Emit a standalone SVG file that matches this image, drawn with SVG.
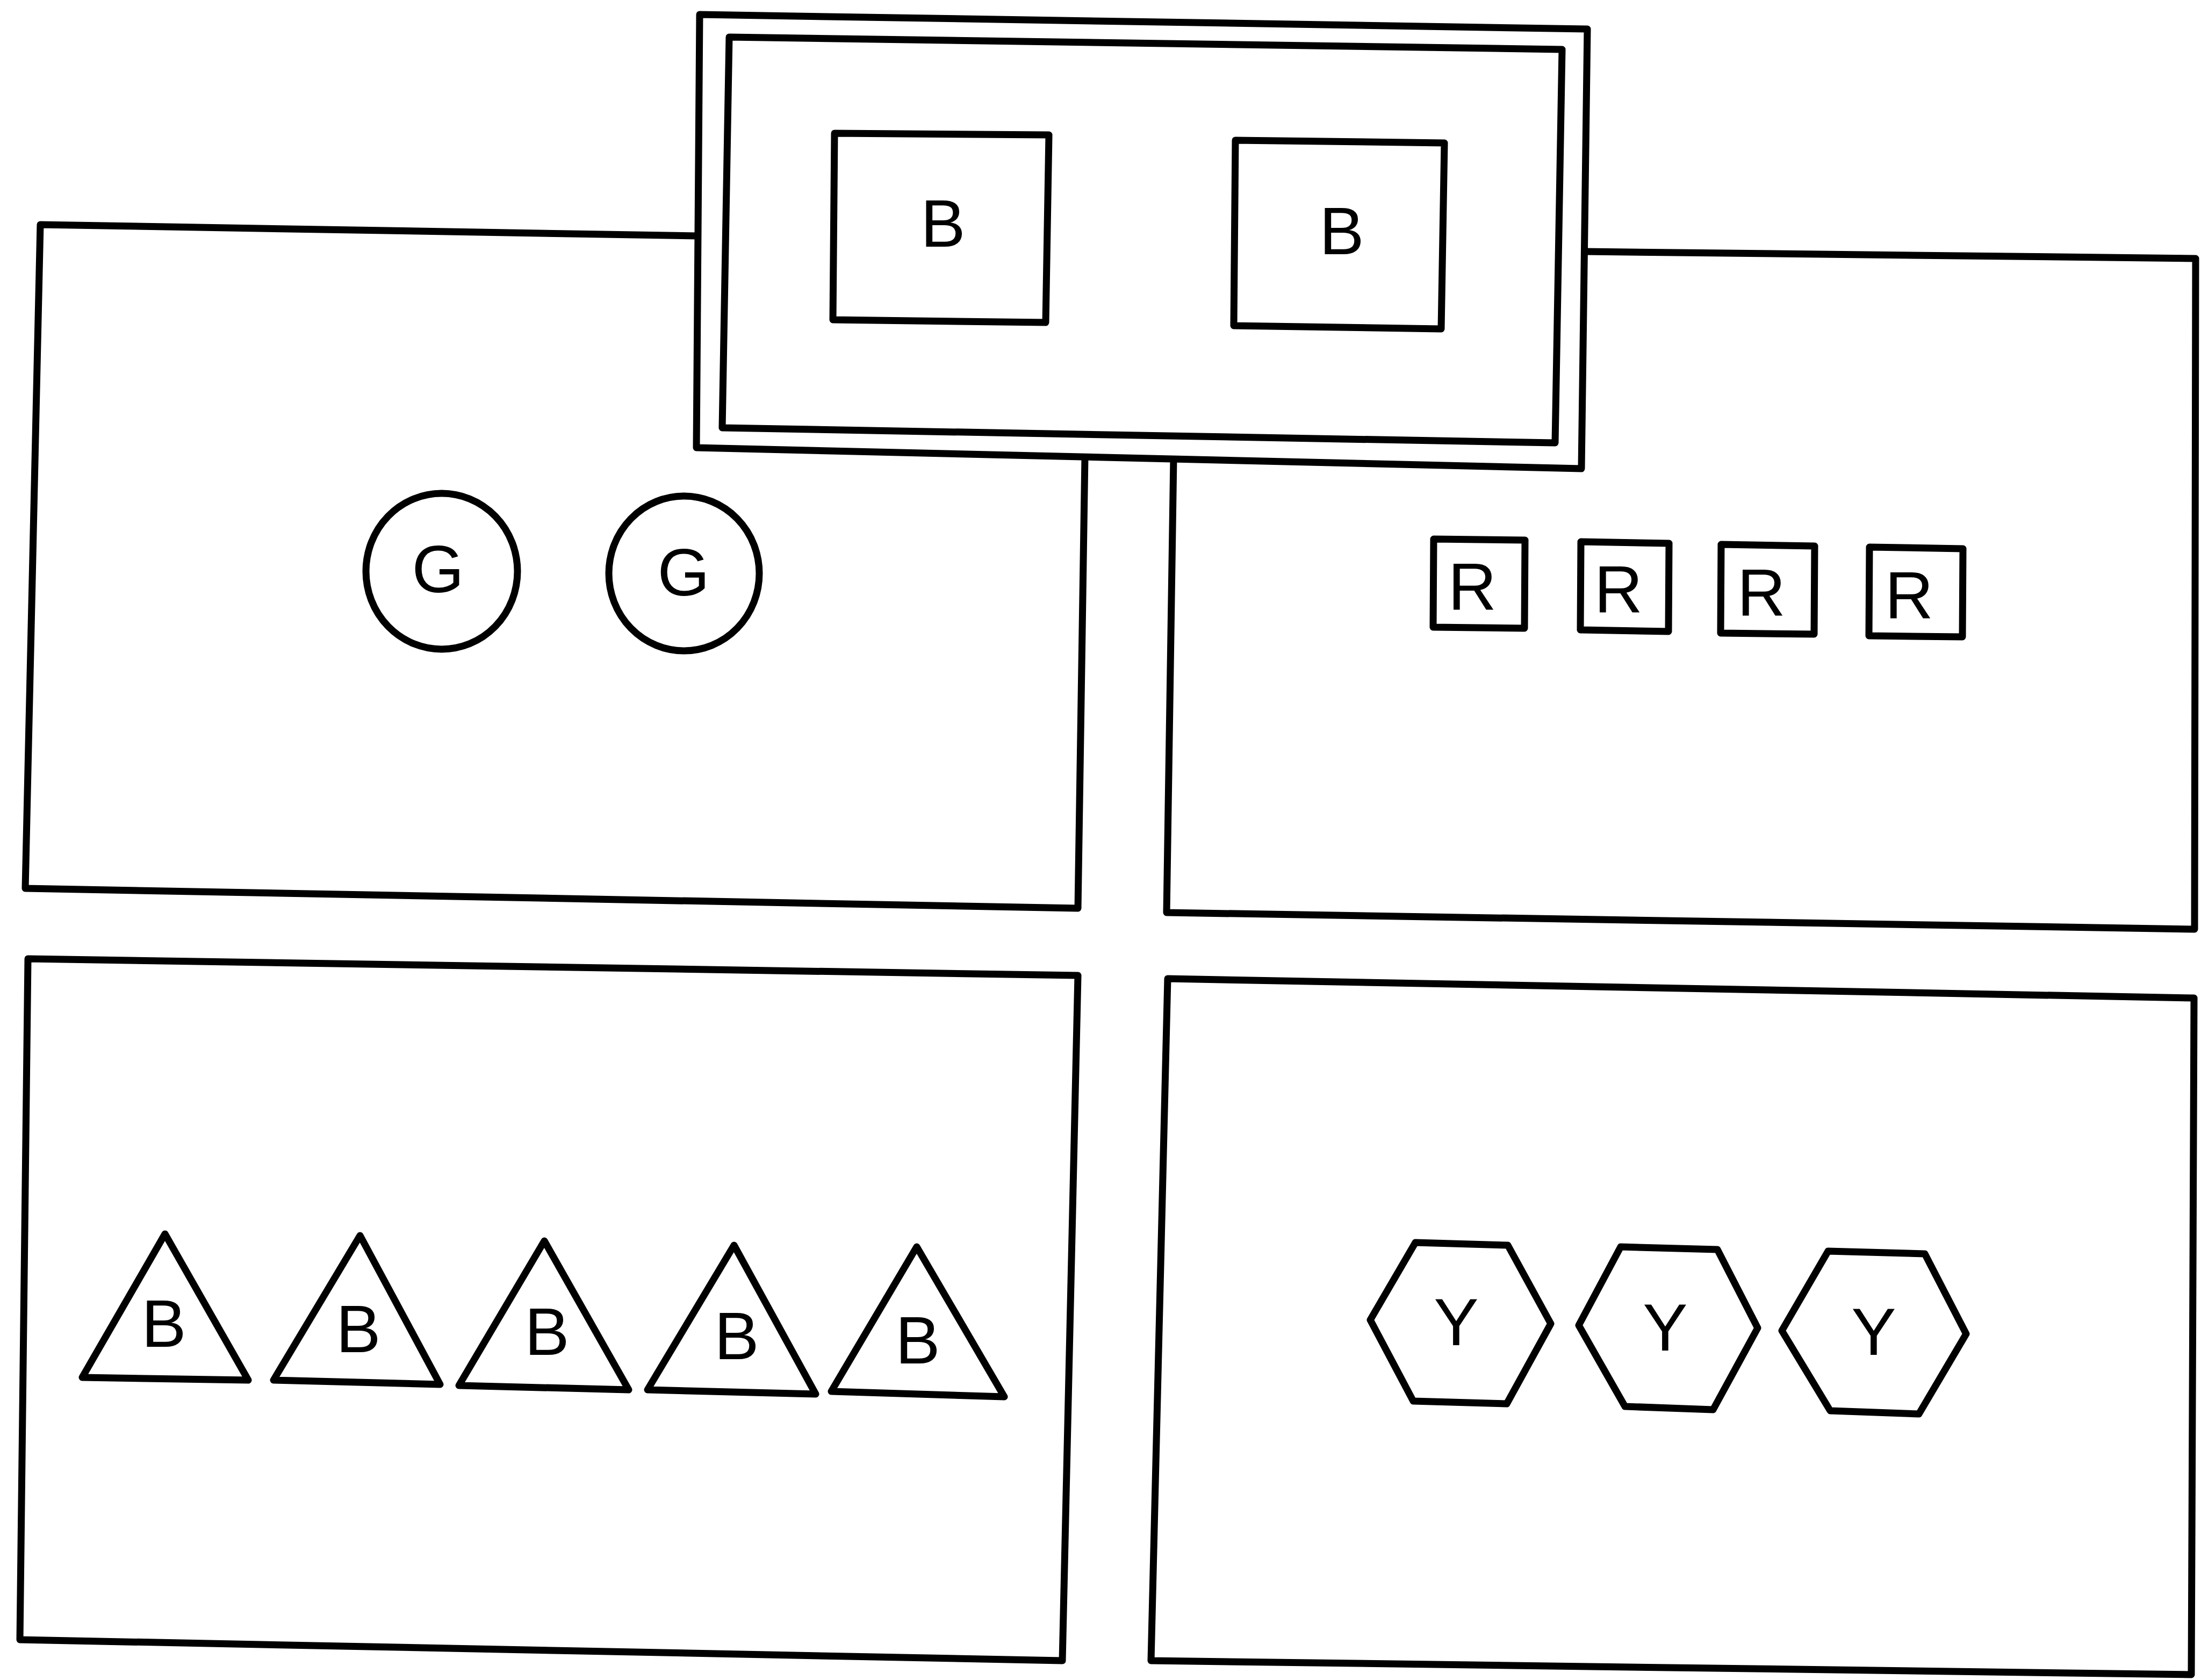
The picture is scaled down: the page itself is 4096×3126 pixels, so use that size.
<svg xmlns="http://www.w3.org/2000/svg" width="4096" height="3126" viewBox="0 0 4096 3126">
<style>
.ln{fill:none;stroke:#000;stroke-width:13;stroke-linejoin:round;stroke-linecap:round}
.sh{fill:#fff;stroke:#000;stroke-width:13;stroke-linejoin:round}
.lb{font-family:"Liberation Sans",Arial,sans-serif;font-size:125px;text-anchor:middle;fill:#000}
</style>
<rect width="4096" height="3126" fill="#fff"/>
<g id="panel-top-left">
<polyline class="ln" points="1299,439 75,418 47,1653 2006,1690 2019,850"/>
</g>
<g id="panel-top-right">
<polyline class="ln" points="2949,468 4086,481 4084,1729 2171,1698 2184,854"/>
</g>
<g id="panel-bottom-left">
<polygon class="ln" points="52,1784 2006,1815 1977,3090 37,3051"/>
</g>
<g id="panel-bottom-right">
<polygon class="ln" points="2173,1821 4083,1857 4078,3116 2142,3090"/>
</g>
<g id="top-box">
<polygon class="sh" points="1302,27 2954,54 2943,872 1296,833"/>
<polygon class="ln" points="1357,69 2907,92 2894,824 1344,796"/>
<g id="top-b1">
<polygon class="ln" points="1553,248 1952,251 1946,600 1550,595"/>
<text class="lb" x="1755" y="459">B</text>
</g>
<g id="top-b2">
<polygon class="ln" points="2299,261 2688,266 2682,612 2296,606"/>
<text class="lb" x="2497" y="473">B</text>
</g>
</g>
<g id="g1">
<ellipse class="ln" cx="822" cy="1063" rx="141" ry="145"/>
<text class="lb" x="815" y="1102">G</text>
</g>
<g id="g2">
<ellipse class="ln" cx="1273" cy="1067" rx="140" ry="144"/>
<text class="lb" x="1272" y="1108">G</text>
</g>
<g id="r1">
<polygon class="ln" points="2668,1003 2838,1005 2837,1169 2667,1167"/>
<text class="lb" x="2740" y="1135">R</text>
</g>
<g id="r2">
<polygon class="ln" points="2942,1008 3106,1011 3105,1175 2941,1172"/>
<text class="lb" x="3012" y="1140">R</text>
</g>
<g id="r3">
<polygon class="ln" points="3203,1013 3377,1016 3376,1180 3202,1178"/>
<text class="lb" x="3278" y="1146">R</text>
</g>
<g id="r4">
<polygon class="ln" points="3479,1018 3653,1021 3652,1185 3478,1183"/>
<text class="lb" x="3553" y="1151">R</text>
</g>
<g id="t1">
<polygon class="ln" points="307,2296 462,2568 153,2563"/>
<text class="lb" x="305" y="2506">B</text>
</g>
<g id="t2">
<polygon class="ln" points="670,2299 819,2576 509,2568"/>
<text class="lb" x="667" y="2516">B</text>
</g>
<g id="t3">
<polygon class="ln" points="1013,2309 1170,2586 854,2578"/>
<text class="lb" x="1018" y="2521">B</text>
</g>
<g id="t4">
<polygon class="ln" points="1366,2317 1518,2594 1205,2586"/>
<text class="lb" x="1371" y="2529">B</text>
</g>
<g id="t5">
<polygon class="ln" points="1706,2320 1869,2599 1547,2589"/>
<text class="lb" x="1708" y="2537">B</text>
</g>
<g id="y1">
<polygon class="ln" points="2634,2312 2806,2317 2886,2463 2804,2612 2630,2607 2550,2456"/>
<text class="lb" x="2710" y="2503">Y</text>
</g>
<g id="y2">
<polygon class="ln" points="3016,2320 3196,2325 3271,2471 3188,2623 3024,2617 2938,2466"/>
<text class="lb" x="3099" y="2513">Y</text>
</g>
<g id="y3">
<polygon class="ln" points="3402,2328 3582,2333 3659,2482 3571,2631 3406,2625 3316,2476"/>
<text class="lb" x="3487" y="2521">Y</text>
</g>
</svg>
